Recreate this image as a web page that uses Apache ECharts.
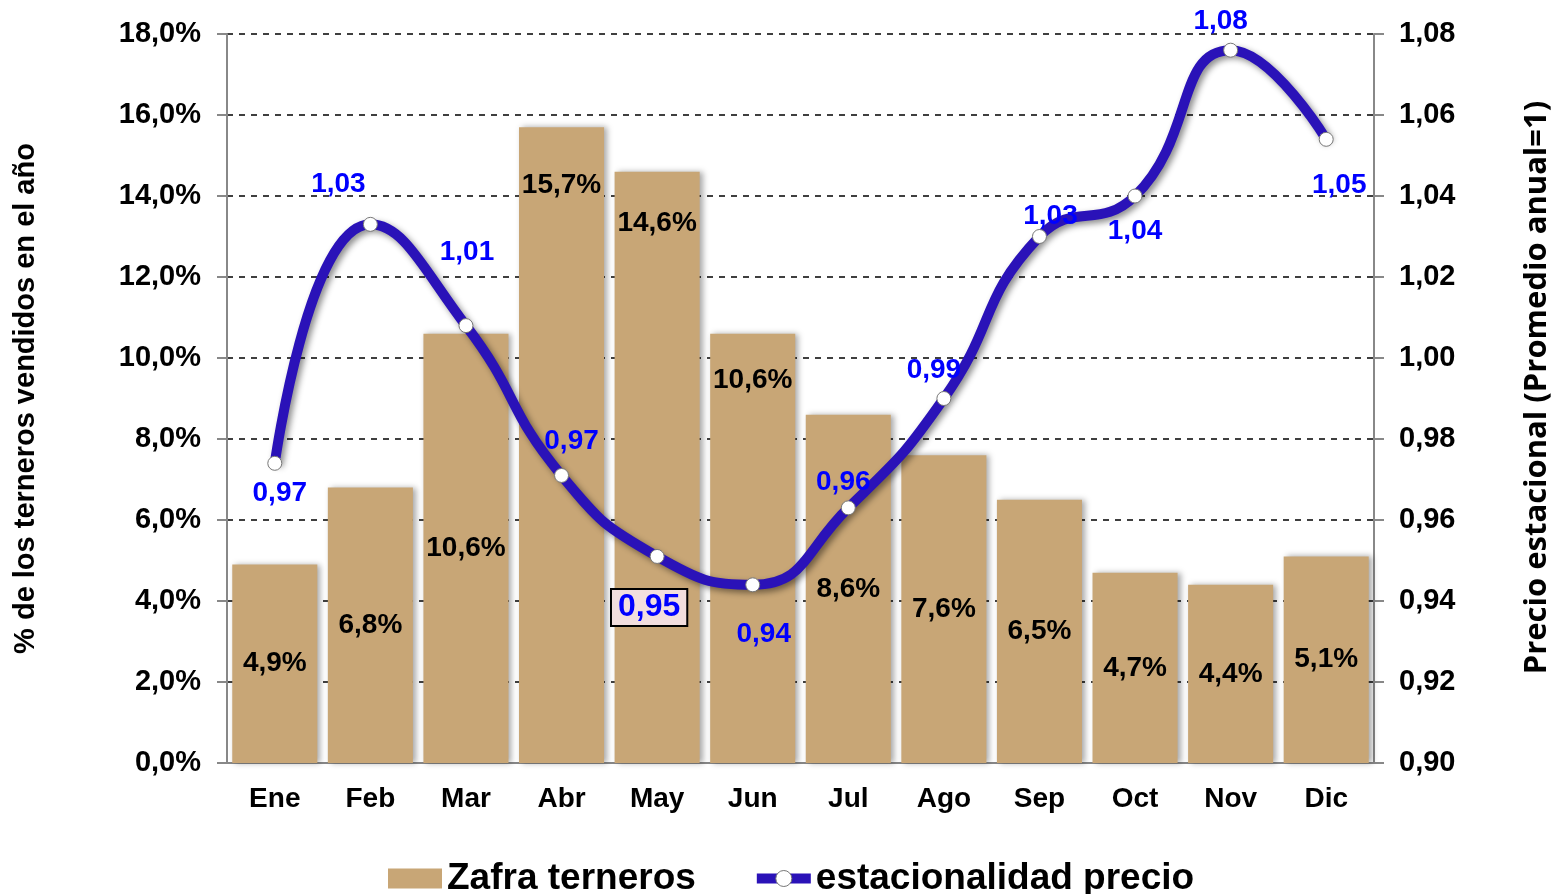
<!DOCTYPE html>
<html>
<head>
<meta charset="utf-8">
<script src="https://cdn.jsdelivr.net/npm/echarts@6/dist/echarts.min.js"></script>
<style>
    html, body { margin: 0; padding: 0; background: #fff; }
    #main { width: 1553px; height: 894px; }
</style>
</head>
<body>
<div id="main"></div>
<script>
// datos
var months = ['Ene', 'Feb', 'Mar', 'Abr', 'May', 'Jun', 'Jul', 'Ago', 'Sep', 'Oct', 'Nov', 'Dic'];
var zafra = [4.9, 6.8, 10.6, 15.7, 14.6, 10.6, 8.6, 7.6, 6.5, 4.7, 4.4, 5.1];
var precio = [0.974, 1.033, 1.008, 0.971, 0.951, 0.944, 0.963, 0.990, 1.030, 1.040, 1.076, 1.054];

// desplazamiento de las etiquetas del precio respecto al punto
var precioLabelOffset = [[5, 30], [-32, -40], [1, -73], [10, -34], [-8, 51], [11, 49],
    [-5, -26], [-10, -28], [11, -20], [0, 35], [-10, -29], [13, 46]];
// etiquetas de barras que van arriba (distancia desde el tope)
var zafraLabelTop = { 3: 58, 4: 52, 5: 47 };

var font = 'Liberation Sans, Arial, sans-serif';
var lineColor = '#2A12B8';

function coma(v, d)
{
    return v.toFixed(d).replace('.', ',');
}

var barData = zafra.map(function(v, i)
{
    var item = { value: v };
    if (zafraLabelTop[i] !== undefined) {
        item.label = { position: ['50%', zafraLabelTop[i]], align: 'center', verticalAlign: 'middle' };
    }
    return item;
});

var lineData = precio.map(function(v, i)
{
    var item = { value: v, label: { offset: precioLabelOffset[i] } };
    if (i === 4) {
        item.label.fontSize = 32;
        item.label.backgroundColor = '#F2DEDE';
        item.label.borderColor = '#000';
        item.label.borderWidth = 2;
        item.label.padding = [3, 6, 0, 6];
    }
    return item;
});

var myChart = echarts.init(document.getElementById('main'));

var option = {
    animation: false,
    grid: { left: 227, right: 179, top: 34, bottom: 131, outerBoundsMode: 'none', containLabel: false },
    legend: {
        data: [
            { name: 'Zafra terneros', icon: 'rect' },
            {
                name: 'estacionalidad precio',
                lineStyle: { color: lineColor, width: 10, shadowBlur: 0, shadowOffsetX: 0, shadowOffsetY: 0 },
                itemStyle: { color: '#fff', borderColor: '#777', borderWidth: 1 }
            }
        ],
        left: 383,
        top: 855,
        itemWidth: 54,
        itemHeight: 20,
        itemGap: 56,
        textStyle: { fontFamily: font, fontWeight: 'bold', fontSize: 37, color: '#000' }
    },
    xAxis: {
        type: 'category',
        data: months,
        axisLine: { lineStyle: { color: '#888', width: 2 } },
        axisTick: { length: 10, lineStyle: { color: '#888', width: 2 } },
        axisLabel: { fontFamily: font, fontWeight: 'bold', fontSize: 28, color: '#000', margin: 22 }
    },
    yAxis: [
        {
            type: 'value',
            min: 0,
            max: 18,
            interval: 2,
            name: '% de los terneros vendidos en el año',
            nameLocation: 'middle',
            nameRotate: 90,
            nameGap: 187,
            nameTextStyle: { fontFamily: font, fontWeight: 'bold', fontSize: 29, color: '#000' },
            axisLine: { show: true, lineStyle: { color: '#888', width: 2 } },
            axisTick: { show: true, length: 10, lineStyle: { color: '#888', width: 2 } },
            axisLabel: {
                fontFamily: font, fontWeight: 'bold', fontSize: 29, color: '#000', margin: 26,
                formatter: function(v) { return coma(v, 1) + '%'; }
            },
            splitLine: { show: true, lineStyle: { color: '#000', width: 1.5, type: [6, 6] } }
        },
        {
            type: 'value',
            min: 0.90,
            max: 1.08,
            interval: 0.02,
            name: 'Precio estacional (Promedio anual=1)',
            nameLocation: 'middle',
            nameRotate: 90,
            nameGap: 148,
            nameTextStyle: { fontFamily: 'Open Sans, Noto Sans, sans-serif', fontWeight: 'bold', fontSize: 31, color: '#000', padding: [0, 0, 0, 22] },
            axisLine: { show: true, lineStyle: { color: '#888', width: 2 } },
            axisTick: { show: true, length: 10, lineStyle: { color: '#888', width: 2 } },
            axisLabel: {
                fontFamily: font, fontWeight: 'bold', fontSize: 29, color: '#000', margin: 25,
                formatter: function(v) { return coma(v, 2); }
            },
            splitLine: { show: false }
        }
    ],
    series: [
        {
            name: 'Zafra terneros',
            type: 'bar',
            yAxisIndex: 0,
            barCategoryGap: '11%',
            data: barData,
            itemStyle: {
                color: '#C8A676',
                shadowColor: 'rgba(0,0,0,0.35)',
                shadowBlur: 6,
                shadowOffsetX: 3
            },
            label: {
                show: true,
                position: 'inside',
                fontFamily: font,
                fontWeight: 'bold',
                fontSize: 28,
                color: '#000',
                formatter: function(p) { return coma(p.value, 1) + '%'; }
            }
        },
        {
            name: 'estacionalidad precio',
            type: 'line',
            yAxisIndex: 1,
            smooth: 0.5,
            data: lineData,
            z: 5,
            symbol: 'circle',
            symbolSize: 14,
            itemStyle: { color: '#fff', borderColor: '#777', borderWidth: 1 },
            lineStyle: {
                color: lineColor,
                width: 10,
                shadowColor: 'rgba(0,0,0,0.45)',
                shadowBlur: 6,
                shadowOffsetX: 3,
                shadowOffsetY: 3
            },
            label: {
                show: true,
                position: 'inside',
                fontFamily: font,
                fontWeight: 'bold',
                fontSize: 28,
                color: '#0000FF',
                formatter: function(p) { return coma(p.value, 2); }
            }
        }
    ]
};

myChart.setOption(option);
</script>
</body>
</html>
